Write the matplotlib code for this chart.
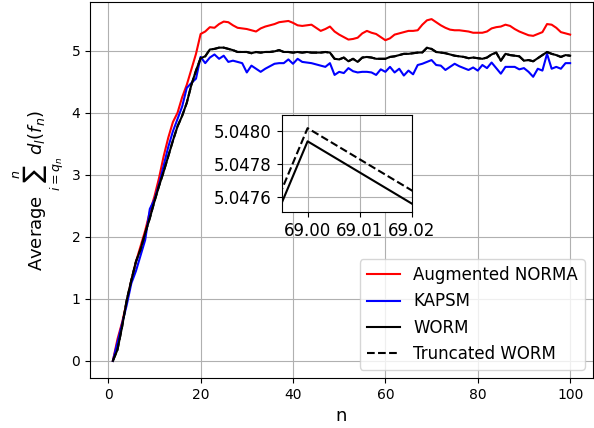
import matplotlib
matplotlib.use("Agg")
import matplotlib.pyplot as plt
from matplotlib.ticker import FormatStrFormatter

# n = 1..100
n = list(range(1, 101))

# Augmented NORMA
aug_norma = [0.00, 0.35, 0.62, 0.95, 1.30, 1.60, 1.85, 2.10, 2.40, 2.65,
             2.95, 3.30, 3.60, 3.85, 4.00, 4.25, 4.45, 4.70, 4.95, 5.27,
             5.31, 5.38, 5.37, 5.43, 5.47, 5.46, 5.41, 5.37, 5.36, 5.35,
             5.33, 5.31, 5.36, 5.39, 5.41, 5.43, 5.46, 5.47, 5.48, 5.45,
             5.41, 5.40, 5.41, 5.42, 5.37, 5.32, 5.35, 5.39, 5.31, 5.26,
             5.22, 5.18, 5.19, 5.21, 5.28, 5.32, 5.29, 5.27, 5.22, 5.17,
             5.20, 5.26, 5.28, 5.30, 5.32, 5.32, 5.33, 5.42, 5.49, 5.51,
             5.46, 5.41, 5.37, 5.34, 5.33, 5.33, 5.32, 5.31, 5.29, 5.29,
             5.29, 5.31, 5.36, 5.38, 5.39, 5.42, 5.40, 5.35, 5.31, 5.28,
             5.25, 5.24, 5.27, 5.30, 5.43, 5.42, 5.37, 5.30, 5.28, 5.26]

# KAPSM
kapsm = [0.00, 0.30, 0.60, 0.90, 1.25, 1.45, 1.70, 1.95, 2.45, 2.60,
         2.85, 3.15, 3.45, 3.70, 3.90, 4.10, 4.40, 4.48, 4.55, 4.90,
         4.80, 4.89, 4.94, 4.87, 4.92, 4.82, 4.84, 4.82, 4.80, 4.65,
         4.76, 4.71, 4.66, 4.71, 4.75, 4.79, 4.80, 4.80, 4.86, 4.79,
         4.87, 4.82, 4.81, 4.80, 4.78, 4.76, 4.74, 4.80, 4.61, 4.66,
         4.64, 4.72, 4.67, 4.65, 4.66, 4.66, 4.65, 4.61, 4.70, 4.66,
         4.74, 4.65, 4.71, 4.60, 4.68, 4.62, 4.77, 4.79, 4.82, 4.85,
         4.77, 4.76, 4.69, 4.74, 4.79, 4.75, 4.72, 4.69, 4.73, 4.68,
         4.77, 4.72, 4.81, 4.72, 4.63, 4.74, 4.74, 4.74, 4.70, 4.72,
         4.66, 4.58, 4.71, 4.68, 4.95, 4.71, 4.74, 4.71, 4.80, 4.80]

# WORM
worm = [0.00, 0.18, 0.55, 0.98, 1.30, 1.60, 1.80, 2.06, 2.30, 2.57,
        2.82, 3.05, 3.30, 3.55, 3.78, 3.95, 4.16, 4.45, 4.68, 4.88,
        4.91, 5.02, 5.03, 5.05, 5.05, 5.03, 5.01, 4.98, 4.98, 4.98,
        4.96, 4.98, 4.97, 4.98, 4.98, 4.99, 5.01, 4.98, 4.98, 4.97,
        4.98, 4.97, 4.98, 4.97, 4.97, 4.97, 4.98, 4.97, 4.87, 4.86,
        4.89, 4.83, 4.87, 4.82, 4.89, 4.90, 4.89, 4.87, 4.87, 4.87,
        4.90, 4.91, 4.93, 4.95, 4.95, 4.96, 4.97, 4.9725, 5.04794, 5.029,
        4.98, 4.97, 4.96, 4.94, 4.92, 4.91, 4.90, 4.88, 4.89, 4.88,
        4.87, 4.89, 4.94, 4.97, 4.84, 4.95, 4.93, 4.92, 4.91, 4.84,
        4.85, 4.83, 4.88, 4.93, 4.98, 4.95, 4.93, 4.90, 4.93, 4.92]

# Truncated WORM
trunc_worm = [0.00, 0.18, 0.55, 0.98, 1.30, 1.60, 1.80, 2.06, 2.30, 2.57,
              2.82, 3.05, 3.30, 3.55, 3.78, 3.95, 4.16, 4.45, 4.68, 4.88,
              4.91, 5.02, 5.03, 5.05, 5.05, 5.03, 5.01, 4.98, 4.98, 4.98,
              4.96, 4.98, 4.97, 4.98, 4.98, 4.99, 5.01, 4.98, 4.98, 4.97,
              4.98, 4.97, 4.98, 4.97, 4.97, 4.97, 4.98, 4.97, 4.87, 4.86,
              4.89, 4.83, 4.87, 4.82, 4.89, 4.90, 4.89, 4.87, 4.87, 4.87,
              4.90, 4.91, 4.93, 4.95, 4.95, 4.96, 4.97, 4.97258, 5.04802, 5.02908,
              4.98, 4.97, 4.96, 4.94, 4.92, 4.91, 4.90, 4.88, 4.89, 4.88,
              4.87, 4.89, 4.94, 4.97, 4.84, 4.95, 4.93, 4.92, 4.91, 4.84,
              4.85, 4.83, 4.88, 4.93, 4.98, 4.95, 4.93, 4.90, 4.93, 4.92]

fig = plt.figure(figsize=(5.94, 4.28), dpi=100)
ax = fig.add_axes([0.1515, 0.1168, 0.8468, 0.8785])

ax.plot(n, aug_norma, color='red', lw=1.5, label='Augmented NORMA')
ax.plot(n, kapsm, color='blue', lw=1.5, label='KAPSM')
ax.plot(n, worm, color='black', lw=1.5, label='WORM')
ax.plot(n, trunc_worm, color='black', ls='--', lw=1.5, label='Truncated WORM')

ax.set_xlabel('n', fontsize=13)
ax.set_ylabel(r'Average $\sum_{i=q_n}^{n}\, d_l(f_n)$', fontsize=13)
ax.tick_params(labelsize=10)
ax.grid(True)
ax.legend(loc='lower right', fontsize=12)

# 放大窗口
axin = fig.add_axes([0.474, 0.5047, 0.2192, 0.2266])
axin.plot(n, worm, color='black', lw=1.5)
axin.plot(n, trunc_worm, color='black', ls='--', lw=1.5)
axin.set_xlim(68.995, 69.02)
axin.set_ylim(5.04751, 5.04810)
axin.set_xticks([69.00, 69.01, 69.02])
axin.set_yticks([5.0476, 5.0478, 5.0480])
axin.xaxis.set_major_formatter(FormatStrFormatter('%.2f'))
axin.yaxis.set_major_formatter(FormatStrFormatter('%.4f'))
axin.tick_params(labelsize=12)
axin.grid(True)

fig.savefig('out.png', dpi=100)
